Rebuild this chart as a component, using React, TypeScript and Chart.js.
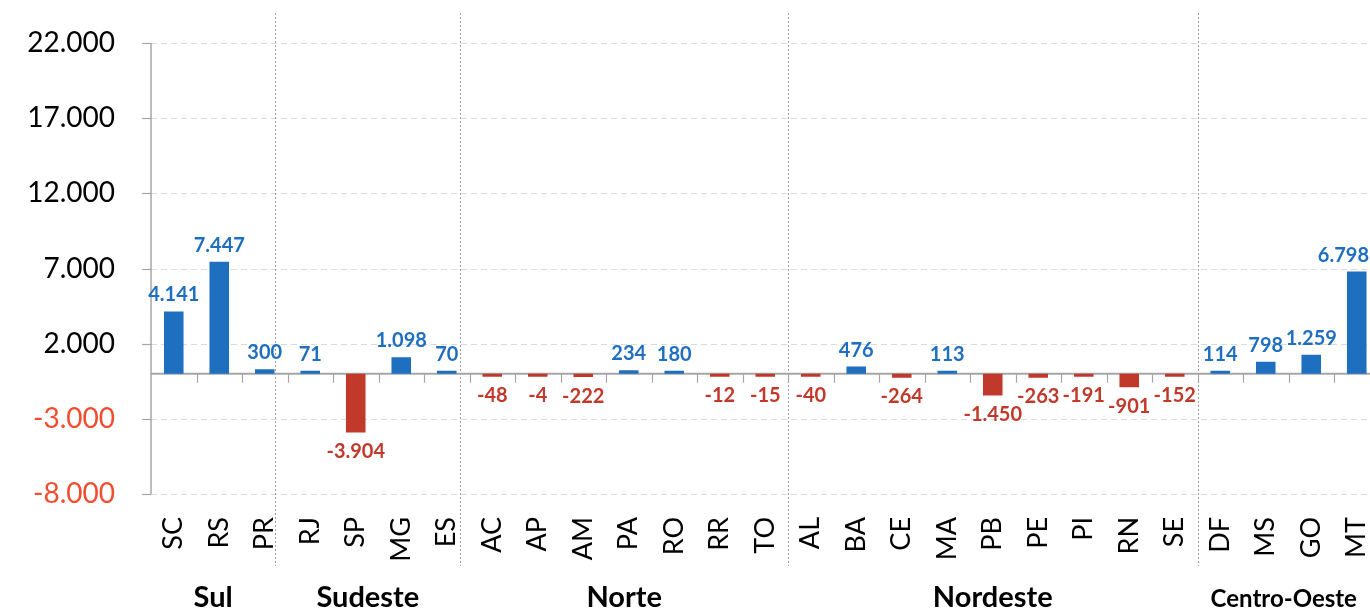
import { useEffect, useRef } from "react";
import { Chart, registerables } from "chart.js";

Chart.register(...registerables);

// ---- Data ----
const states = [
  "SC", "RS", "PR",
  "RJ", "SP", "MG", "ES",
  "AC", "AP", "AM", "PA", "RO", "RR", "TO",
  "AL", "BA", "CE", "MA", "PB", "PE", "PI", "RN", "SE",
  "DF", "MS", "GO", "MT",
];
const saldo = [
  4141, 7447, 300,
  71, -3904, 1098, 70,
  -48, -4, -222, 234, 180, -12, -15,
  -40, 476, -264, 113, -1450, -263, -191, -901, -152,
  114, 798, 1259, 6798,
];
const regions = ["Sul", "Sudeste", "Norte", "Nordeste", "Centro-Oeste"];
const regionSizes = [3, 4, 7, 9, 4];
const yTickValues = [-8000, -3000, 2000, 7000, 12000, 17000, 22000];

// ---- Styles ----
const BLUE = "#1F6FC1";
const RED = "#C0392B";
const NEG_TICK = "#F04E2F";
const AXIS = "#A6A6A6";
const GRID = "#DADADA";
const SEP = "#9C9C9C";
const FONT = "Lato, 'Open Sans', sans-serif";
const sepShift = [-0.27, -0.2, 0, 0];

function fmt(v: number): string {
  const s = Math.abs(Math.round(v)).toString().replace(/\B(?=(\d{3})+(?!\d))/g, ".");
  return (v < 0 ? "-" : "") + s;
}

const decor = {
  id: "decor",
  beforeDatasetsDraw(chart: any) {
    const { ctx, chartArea: ca, scales } = chart;
    const x = scales.x;
    const y = scales.y;
    const w = x.getPixelForValue(1) - x.getPixelForValue(0);
    ctx.save();
    // dashed horizontal grid
    ctx.strokeStyle = GRID;
    ctx.lineWidth = 1;
    ctx.setLineDash([6, 4]);
    yTickValues.forEach((v) => {
      const py = Math.round(y.getPixelForValue(v)) + 0.5;
      ctx.beginPath();
      ctx.moveTo(ca.left, py);
      ctx.lineTo(ca.right, py);
      ctx.stroke();
    });
    // group separators
    ctx.strokeStyle = SEP;
    ctx.setLineDash([2, 2]);
    let cum = 0;
    for (let g = 0; g < regionSizes.length - 1; g++) {
      cum += regionSizes[g];
      const px = Math.round(x.getPixelForValue(cum - 0.5) + sepShift[g] * w) + 0.5;
      ctx.beginPath();
      ctx.moveTo(px, 13);
      ctx.lineTo(px, 566);
      ctx.stroke();
    }
    ctx.setLineDash([]);
    // y axis line
    ctx.strokeStyle = AXIS;
    ctx.lineWidth = 1.5;
    const yTop = y.getPixelForValue(yTickValues[yTickValues.length - 1]);
    const yBot = y.getPixelForValue(yTickValues[0]);
    ctx.beginPath();
    ctx.moveTo(ca.left, yTop);
    ctx.lineTo(ca.left, yBot);
    ctx.stroke();
    // y tick marks
    ctx.lineWidth = 1.2;
    yTickValues.forEach((v) => {
      const py = Math.round(y.getPixelForValue(v)) + 0.5;
      ctx.beginPath();
      ctx.moveTo(ca.left - 9, py);
      ctx.lineTo(ca.left, py);
      ctx.stroke();
    });
    // zero line
    const y0 = y.getPixelForValue(0);
    ctx.lineWidth = 2;
    ctx.beginPath();
    ctx.moveTo(ca.left, y0);
    ctx.lineTo(ca.right, y0);
    ctx.stroke();
    // x tick marks at zero line
    ctx.lineWidth = 1.2;
    for (let k = 1; k <= states.length; k++) {
      const px = Math.round(x.getPixelForValue(k - 0.5)) + 0.5;
      ctx.beginPath();
      ctx.moveTo(px, y0);
      ctx.lineTo(px, y0 + 9);
      ctx.stroke();
    }
    ctx.restore();
  },
  afterDatasetsDraw(chart: any) {
    const { ctx, chartArea: ca, scales } = chart;
    const x = scales.x;
    const w = x.getPixelForValue(1) - x.getPixelForValue(0);
    const visibleRight = Math.min(ca.right, window.innerWidth || 1370);
    const meta = chart.getDatasetMeta(0);
    ctx.save();
    ctx.font = `bold 20px ${FONT}`;
    ctx.textAlign = "center";
    meta.data.forEach((bar: any, i: number) => {
      const v = saldo[i];
      const text = fmt(v);
      const tw = ctx.measureText(text).width;
      const lx = Math.min(bar.x, visibleRight - tw / 2 - 1);
      if (v >= 0) {
        ctx.fillStyle = BLUE;
        ctx.textBaseline = "alphabetic";
        ctx.fillText(text, lx, bar.y - 10);
      } else {
        ctx.fillStyle = RED;
        ctx.textBaseline = "top";
        ctx.fillText(text, lx, bar.y + 9);
      }
    });
    // region labels
    const edges: number[] = [ca.left];
    let cum = 0;
    for (let g = 0; g < regionSizes.length - 1; g++) {
      cum += regionSizes[g];
      edges.push(x.getPixelForValue(cum - 0.5) + sepShift[g] * w);
    }
    edges.push(visibleRight);
    ctx.fillStyle = "#000";
    ctx.textBaseline = "alphabetic";
    regions.forEach((name, g) => {
      const cx = (edges[g] + edges[g + 1]) / 2;
      ctx.font = name.length > 9 ? `bold 24px ${FONT}` : `bold 29px ${FONT}`;
      ctx.fillText(name, cx, 607);
    });
    ctx.restore();
  },
};

export default function App() {
  const ref = useRef<HTMLCanvasElement | null>(null);
  useEffect(() => {
    document.body.style.overflow = "hidden";
    document.documentElement.style.overflow = "hidden";
    if (!ref.current) return;
    const chart = new Chart(ref.current, {
      type: "bar",
      data: {
        labels: states,
        datasets: [
          {
            data: saldo,
            backgroundColor: saldo.map((v) => (v >= 0 ? BLUE : RED)),
            categoryPercentage: 1,
            barPercentage: 0.43,
            minBarLength: 3,
          },
        ],
      },
      options: {
        responsive: false,
        animation: false,
        devicePixelRatio: 1,
        layout: { padding: { top: 43, right: 10.5, bottom: 0, left: 0 } },
        plugins: { legend: { display: false }, tooltip: { enabled: false } },
        scales: {
          x: {
            grid: { display: false, drawTicks: false },
            border: { display: false },
            ticks: {
              autoSkip: false,
              maxRotation: 90,
              minRotation: 90,
              padding: 23,
              color: "#000",
              font: { family: FONT, size: 27 },
            },
            afterFit: (s: any) => {
              s.height = 118;
              s.paddingLeft = 0;
              s.paddingRight = 0;
            },
          },
          y: {
            min: -8000,
            max: 22000,
            grid: { color: "rgba(0,0,0,0)", drawTicks: true, tickLength: 9, tickColor: "rgba(0,0,0,0)" },
            border: { display: false },
            ticks: {
              stepSize: 5000,
              padding: 27,
              font: { family: FONT, size: 28 },
              color: (c: any) => (c.tick && c.tick.value < 0 ? NEG_TICK : "#000"),
              callback: (v: any) => fmt(Number(v)),
            },
            afterFit: (s: any) => {
              s.width = 151;
              s.paddingTop = 0;
              s.paddingBottom = 0;
            },
          },
        },
      },
      plugins: [decor],
    });
    return () => chart.destroy();
  }, []);
  return (
    <div style={{ position: "fixed", left: 0, top: 0, width: 1390, height: 612, background: "#fff" }}>
      <canvas ref={ref} width={1390} height={612} style={{ display: "block" }} />
    </div>
  );
}
